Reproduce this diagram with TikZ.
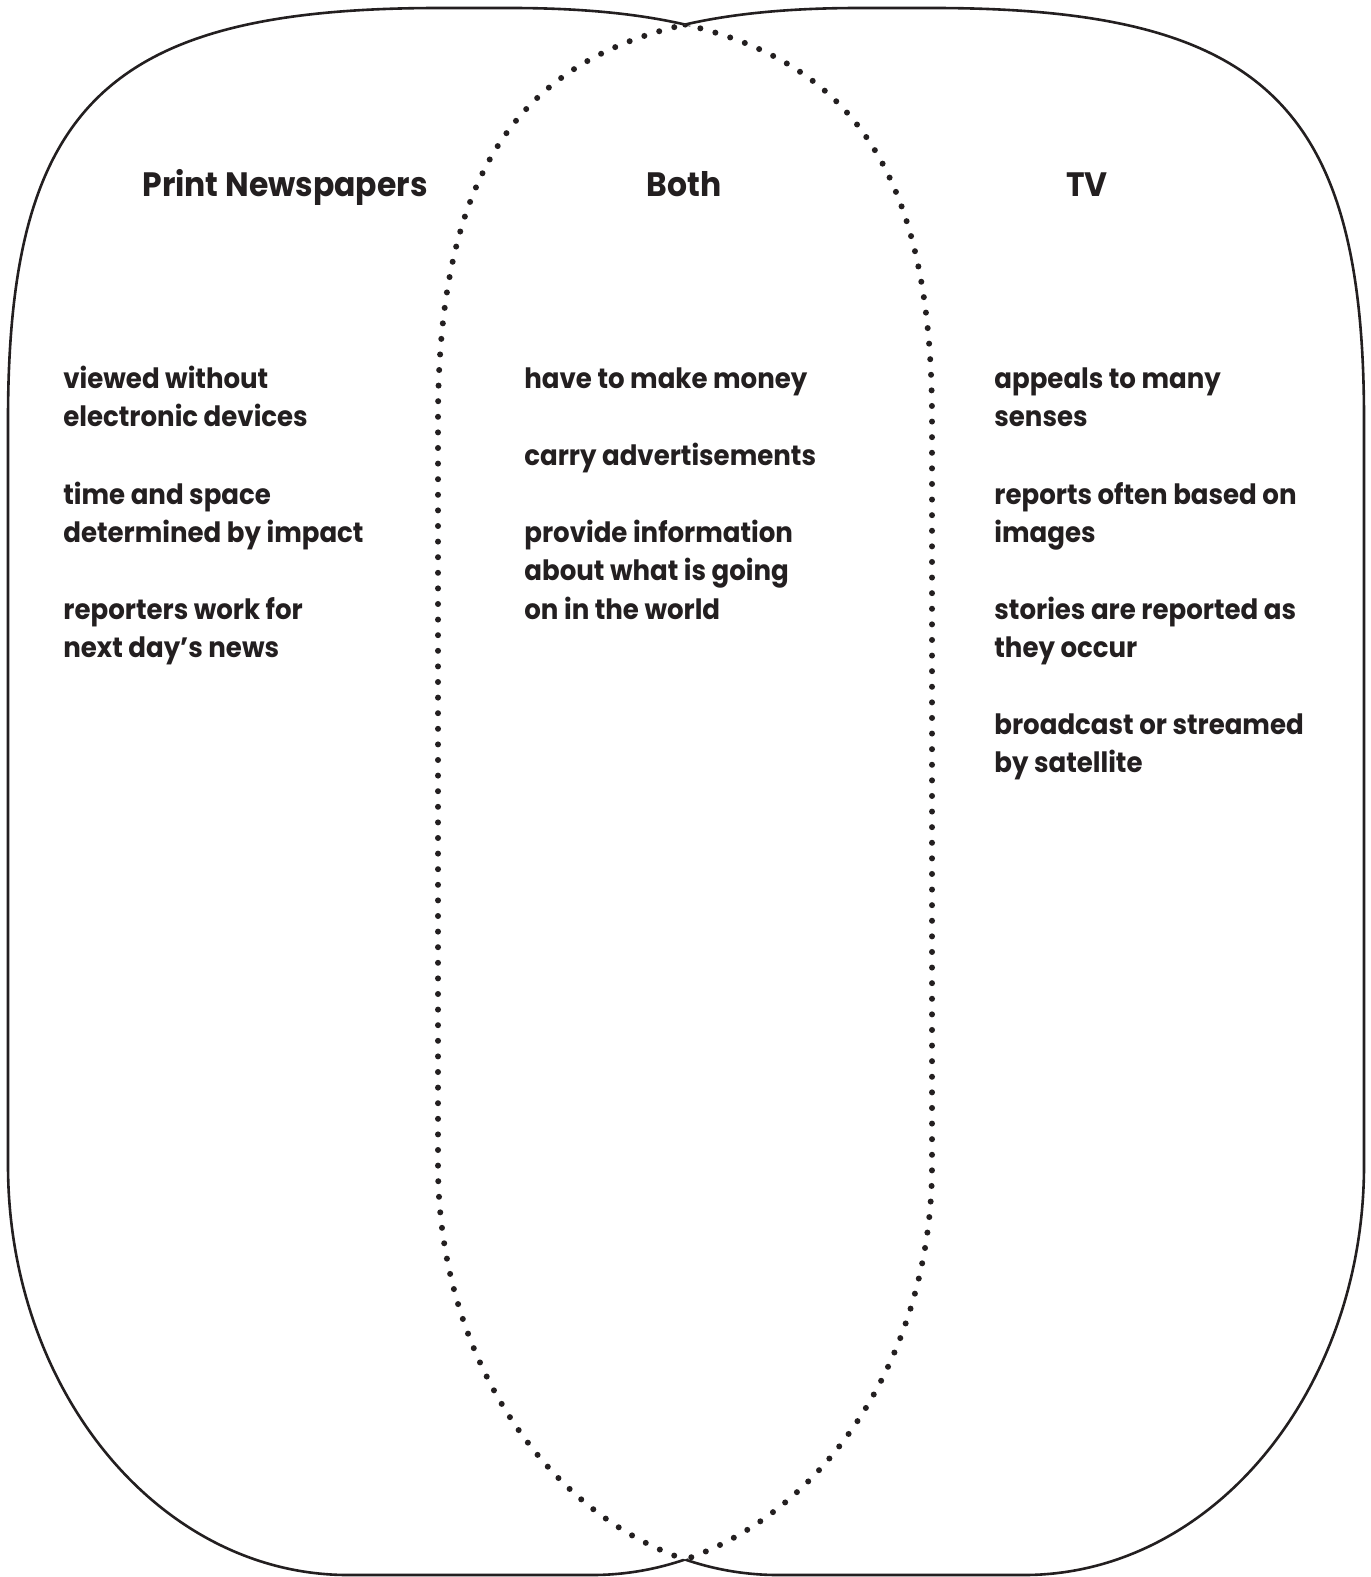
\documentclass[tikz,border=0pt]{standalone}
\usepackage{fontspec}
\setmainfont{Poppins}[FakeStretch=0.93]
\definecolor{ink}{RGB}{35,31,32}
\begin{document}
\begin{tikzpicture}[x=0.5pt,y=-0.5pt,
  outline/.style={line width=1.3pt, draw=ink},
  dotline/.style={line width=3pt, draw=ink, line cap=round, dash pattern=on 0pt off 7.8pt},
  ttl/.style={font=\fontsize{16.9}{20}\selectfont\bfseries, text=ink, anchor=base, inner sep=0pt},
  itm/.style={font=\fontsize{14}{19}\selectfont\bfseries, text=ink, anchor=base west, inner sep=0pt},
  lshape/.style={insert path={(440,8) .. controls (110,8) and (8,103) .. (8,420) -- (8,1165) .. controls (8,1391) and (160,1575) .. (348,1575) -- (592,1575) .. controls (780,1575) and (932,1391) .. (932,1165) -- (932,420) .. controls (932,103) and (800,8) .. (510,8) -- cycle}},
  rshape/.style={insert path={(860,8) .. controls (570,8) and (438,103) .. (438,420) -- (438,1165) .. controls (438,1391) and (590,1575) .. (778,1575) -- (1024,1575) .. controls (1212,1575) and (1364,1391) .. (1364,1165) -- (1364,420) .. controls (1364,103) and (1262,8) .. (932,8) -- cycle}},
  bigframe/.style={insert path={(-50,-50) -- (1420,-50) -- (1420,1630) -- (-50,1630) -- cycle}}
]
\fill[white] (0,0) rectangle (1370,1577);
\useasboundingbox (0,0) rectangle (1370,1577);

% solid outer outline (union boundary)
\begin{scope}
  \clip[bigframe, rshape];
  \draw[outline, lshape];
\end{scope}
\begin{scope}
  \clip[bigframe, lshape];
  \draw[outline, rshape];
\end{scope}

% dotted inner boundaries
\begin{scope}
  \clip[rshape];
  \draw[dotline, lshape];
\end{scope}
\begin{scope}
  \clip[lshape];
  \draw[dotline, rshape];
\end{scope}

% titles
\node[ttl] (tP) at (285,197) {Print Newspapers};
\node[ttl] (tB) at (684,197) {Both};
\node[ttl] (tT) at (1087,197) {TV};

% left column
\node[itm] (l1) at (63,389) {viewed without};
\node[itm] (l2) at (63,427) {electronic devices};
\node[itm] (l3) at (63,504) {time and space};
\node[itm] (l4) at (63,542) {determined by impact};
\node[itm] (l5) at (63,619) {reporters work for};
\node[itm] (l6) at (63,657) {next day’s news};

% middle column
\node[itm] (m1) at (524,389) {have to make money};
\node[itm] (m2) at (524,466) {carry advertisements};
\node[itm] (m3) at (524,542) {provide information};
\node[itm] (m4) at (524,580) {about what is going};
\node[itm] (m5) at (524,619) {on in the world};

% right column
\node[itm] (r1) at (994,389) {appeals to many};
\node[itm] (r2) at (994,427) {senses};
\node[itm] (r3) at (994,504) {reports often based on};
\node[itm] (r4) at (994,542) {images};
\node[itm] (r5) at (994,619) {stories are reported as};
\node[itm] (r6) at (994,657) {they occur};
\node[itm] (r7) at (994,734) {broadcast or streamed};
\node[itm] (r8) at (994,772) {by satellite};
\end{tikzpicture}
\end{document}
